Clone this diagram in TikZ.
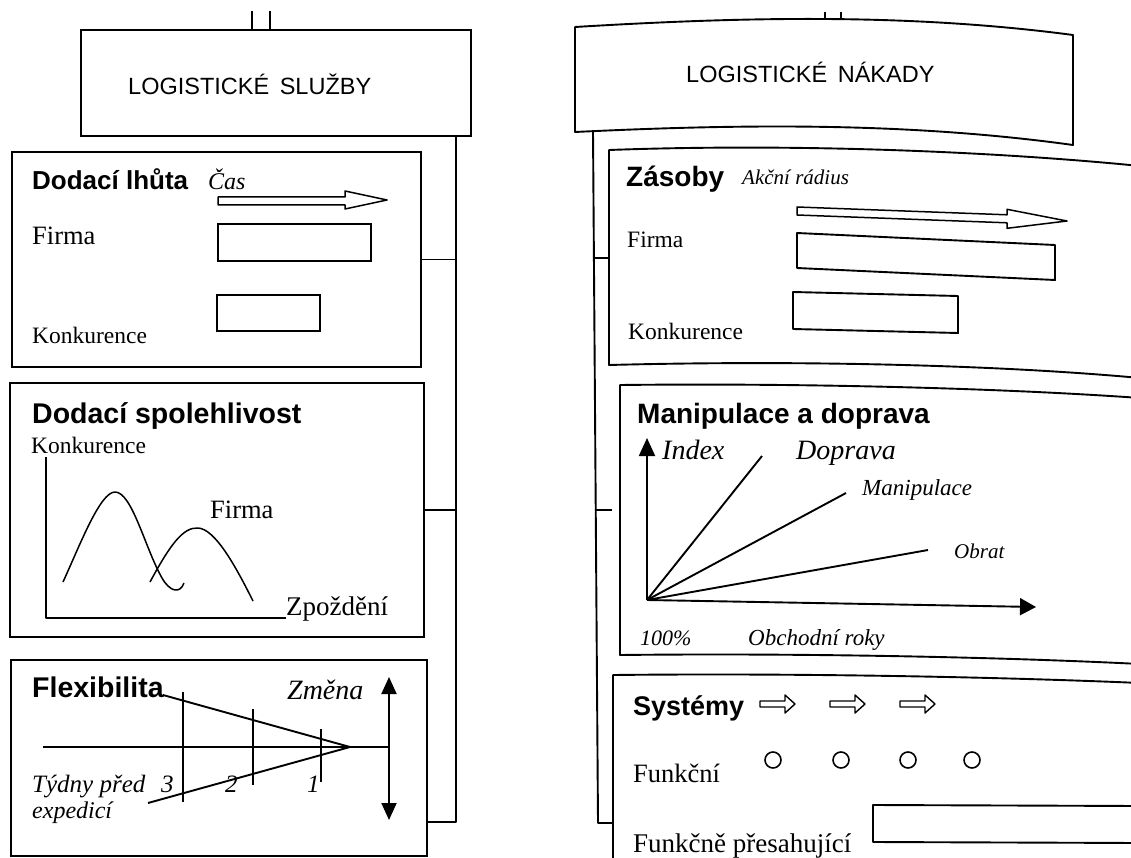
\documentclass[tikz,border=0pt]{standalone}
\usepackage{fontspec}
\setmainfont{Liberation Serif}
\setsansfont{Liberation Sans}
\usetikzlibrary{arrows.meta}

\begin{document}
\begin{tikzpicture}[x=1pt,y=-1pt,
  ln/.style={line width=1.9pt, line join=round},
  thin/.style={line width=1.5pt, line join=round},
  frame/.style={draw, line width=2pt, inner sep=0pt},
  lbl/.style={anchor=base west, inner sep=0pt},
  ttl/.style={lbl, font=\sffamily\bfseries\fontsize{#1}{30}\selectfont},
  ttl/.default=28,
  hdr/.style={lbl, font=\sffamily\fontsize{23.5}{26}\selectfont},
  ser/.style={lbl, font=\fontsize{#1}{28}\selectfont},
  ita/.style={lbl, font=\itshape\fontsize{#1}{28}\selectfont},
  bothtri/.style={{Triangle[length=17pt,width=15pt]}-{Triangle[length=17pt,width=15pt]}},
]
\useasboundingbox (0,0) rectangle (1131,858);
\clip (0,0) rectangle (1131,858);

% ---------------- left column: logistic services ----------------
\node[frame, minimum width=390pt, minimum height=106pt] (hdrL) at (276,83) {};
\node[hdr] (hdrLt) at (128,95) {LOGISTICKÉ\hspace{0.45em}SLUŽBY};
\coordinate (inL1) at (252,11);
\coordinate (inL2) at (270,11);
\draw[ln] (inL1) -- (inL1 |- hdrL.north);
\draw[ln] (inL2) -- (inL2 |- hdrL.north);

\node[frame, minimum width=409pt, minimum height=215pt] (box1) at (216.5,259.5) {};
\node[frame, minimum width=414pt, minimum height=254pt] (box2) at (217,510) {};
\node[frame, minimum width=416pt, minimum height=196pt] (box3) at (219,758) {};

% spine and branches
\coordinate (spL1) at (456,136);
\coordinate (spL2) at (456,822);
\draw[ln] (hdrL.south -| spL1) -- (spL2) -- (box3.east |- spL2);
\draw[ln] (box1.east) -- (box1.east -| spL1);
\draw[ln] (box2.east) -- (box2.east -| spL1);

% delivery time
\node[ttl=26] (t1) at (32,190) {Dodací lhůta};
\node[ita=24] (cas) at (208,190) {Čas};
\draw[thin] (218,197) -- (345,197) -- (345,191) -- (387,200) -- (345,209) -- (345,205) -- (218,205) -- cycle;
\node[ser=26.5] (f1) at (32,245) {Firma};
\node[frame, minimum width=153pt, minimum height=37pt] (barF1) at (294.5,242.5) {};
\node[ser=23.5] (k1) at (32,343) {Konkurence};
\node[frame, minimum width=103pt, minimum height=36pt] (barK1) at (268.5,313) {};

% delivery reliability
\node[ttl=28.5] (t2) at (32,423) {Dodací spolehlivost};
\node[ser=23.5] (k2) at (31,453) {Konkurence};
\node[ser=26.5] (f2) at (210,518) {Firma};
\node[ser=27] (zp) at (286,615) {Zpoždění};
\draw[ln] (46,457) |- (286,618);
\draw[thin] (63,582) .. controls (80,545) and (100,492) .. (115,492)
  .. controls (132,492) and (145,548) .. (162,578)
  .. controls (170,592) and (180,594) .. (184,583);
\draw[thin] (150,582) .. controls (170,545) and (183,527) .. (198,528)
  .. controls (215,529) and (235,565) .. (253,601);

% flexibility
\node[ttl=28.5] (t3) at (32,697) {Flexibilita};
\node[ita=28] (zm) at (287,699) {Změna};
\draw[ln, bothtri] (389,677) -- (389,820);
\draw[ln] (43,747) -- (389,747);
\coordinate (apex) at (350,747);
\draw[ln] (163,695) -- (apex);
\draw[ln] (148,803) -- (apex);
\draw[ln] (183,692) -- (183,802);
\draw[ln] (253,709) -- (253,785);
\draw[ln] (321,729) -- (321,782);
\node[ita=25] (tyd) at (32,792) {Týdny před};
\node[ita=25] (w3) at (161,792) {3};
\node[ita=25] (w2) at (225,792) {2};
\node[ita=25] (w1) at (307,792) {1};
\node[ita=24] (exped) at (32,818) {expedicí};

% ---------------- right column: logistic costs ----------------
\coordinate (hRtl) at (575,27);
\coordinate (hRtr) at (1073,35);
\coordinate (hRbr) at (1073,145);
\coordinate (hRbl) at (575,132);
\draw[ln] (hRtl) .. controls (741,17) and (907,13) .. (hRtr) -- (hRbr)
  .. controls (907,122) and (741,124) .. (hRbl) -- cycle;
\node[hdr] (hdrRt) at (686,83) {LOGISTICKÉ\hspace{0.45em}NÁKADY};
\coordinate (inR1) at (825,12);
\coordinate (inR2) at (841,12);
\draw[ln] (inR1) -- (825,20);
\draw[ln] (inR2) -- (841,20);

% panel outlines (open to the right)
\coordinate (zL) at (609,258);
\draw[ln] (1140,166) .. controls (1000,152) and (800,143) .. (609,150) -- (609,365)
  .. controls (800,360) and (1000,365) .. (1140,378);
\draw[ln] (1140,398) .. controls (1000,388) and (800,383) .. (620,385) -- (620,655)
  .. controls (800,653) and (1000,657) .. (1140,664);
\coordinate (sL) at (613,823);
\draw[ln] (1140,683) .. controls (1000,677) and (800,673) .. (613,675) -- (613,870);

% spine and branches
\coordinate (spR1) at (593,132);
\coordinate (spR2) at (598,823);
\coordinate (mStub) at (612,510);
\draw[ln] (spR1) -- (spR2) -- (sL);
\draw[ln] (593.9,258) -- (zL);
\draw[ln] (595.7,510) -- (mStub);

% stocks
\node[ttl] (t4) at (626,187) {Zásoby};
\node[ita=21] (akc) at (742,185) {Akční rádius};
\draw[thin] (797,207) -- (1007,214.8) -- (1007,209.3) -- (1067,221) -- (1007,228.3) -- (1007,222.8) -- (797,215) -- cycle;
\node[ser=23.5] (f4) at (627,248) {Firma};
\draw[ln] (797,233) -- (1055,245) -- (1055,280) -- (797,268) -- cycle;
\node[ser=23.5] (k4) at (628,339) {Konkurence};
\draw[ln] (793,292) -- (958,296) -- (958,333) -- (793,329) -- cycle;

% handling and transport
\node[ttl] (t5) at (637,423) {Manipulace a doprava};
\coordinate (o5) at (647,600);
\draw[ln, -{Triangle[length=18pt,width=16pt]}] (o5) -- (647,438);
\draw[ln, -{Triangle[length=16pt,width=17pt]}] (o5) -- (1036,607);
\draw[ln] (o5) -- (762,456);
\draw[ln] (o5) -- (846,493);
\draw[ln] (o5) -- (928,550);
\node[ita=28] (idx) at (662,459) {Index};
\node[ita=28] (dop) at (796,459) {Doprava};
\node[ita=23] (man) at (862,495) {Manipulace};
\node[ita=21] (obr) at (954,558) {Obrat};
\node[ita=22] (pct) at (640,645) {100\%};
\node[ita=23] (obch) at (748,645) {Obchodní roky};

% systems
\node[ttl=27] (t6) at (633,715) {Systémy};
\foreach \ax in {760,830,900}
  \draw[line width=1.4pt, line join=round] (\ax,701) -- (\ax+25,701) -- (\ax+25,695) -- (\ax+35,704)
    -- (\ax+25,713) -- (\ax+25,707) -- (\ax,707) -- cycle;
\foreach \cx/\nm in {773/c1, 841/c2, 908/c3, 972/c4}
  \node[draw, circle, line width=1.6pt, minimum size=16pt, inner sep=0pt] (\nm) at (\cx,760) {};
\node[ser=26.5] (fn) at (633,782) {Funkční};
\draw[ln] (1140,806) -- (873,805) -- (873,842) -- (1140,843);
\node[ser=27] (fnp) at (633,852) {Funkčně přesahující};
\end{tikzpicture}
\end{document}
